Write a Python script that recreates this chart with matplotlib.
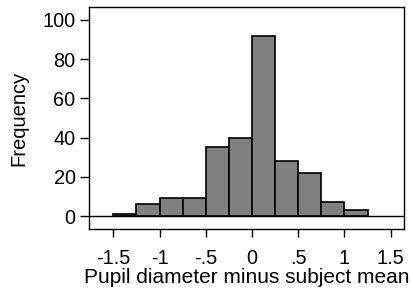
import matplotlib
matplotlib.use("Agg")
import matplotlib.pyplot as plt
import numpy as np

bin_edges = [-1.5, -1.25, -1.0, -0.75, -0.5, -0.25, 0.0, 0.25, 0.5, 0.75, 1.0, 1.25]
counts = [1, 6, 9, 9, 35, 40, 92, 28, 22, 7, 3]
xticks = [-1.5, -1, -0.5, 0, 0.5, 1, 1.5]
xtick_labels = ["-1.5", "-1", "-.5", "0", ".5", "1", "1.5"]
yticks = [0, 20, 40, 60, 80, 100]

plt.rcParams['font.family'] = ['Liberation Sans', 'DejaVu Sans']

fig = plt.figure(figsize=(4.13, 2.93), dpi=100)
ax = fig.add_axes([88.7/413, 1 - 229/293, (404-88.7)/413, (229-7)/293])

lefts = np.array(bin_edges[:-1])
widths = np.diff(bin_edges)
ax.bar(lefts, counts, width=widths, align='edge', color='#808080',
       edgecolor='black', linewidth=1.2, zorder=2)
ax.axhline(0, color='black', linewidth=1.0, zorder=3)

ax.set_xlim(-1.766, 1.644)
ax.set_ylim(-6.6, 106.6)
ax.set_xticks(xticks)
ax.set_xticklabels(xtick_labels)
ax.set_yticks(yticks)
ax.tick_params(direction='out', width=1, labelsize=14.3)
ax.tick_params(axis='x', length=5.5, pad=9)
ax.tick_params(axis='y', length=6.5, pad=3)
for s in ax.spines.values():
    s.set_linewidth(1.0)
ax.set_xlabel("Pupil diameter minus subject mean", fontsize=15, labelpad=0)
ax.set_ylabel("Frequency", fontsize=14.5, labelpad=10)

fig.savefig("out.png", dpi=100)
